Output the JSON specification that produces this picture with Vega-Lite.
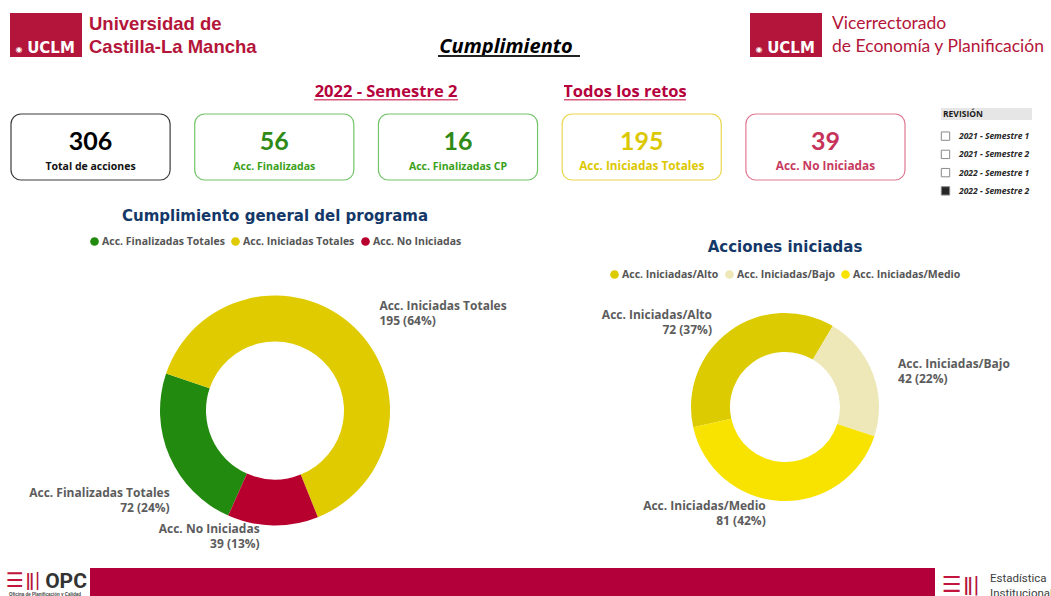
{
"$schema":"https://vega.github.io/schema/vega-lite/v6.json",
"background":"white",
"padding":{"left":0,"top":13,"right":0,"bottom":0},
"spacing":0,
"resolve":{"scale":{"color":"independent","fill":"independent","stroke":"independent","theta":"independent"},"legend":{"color":"independent","fill":"independent","stroke":"independent"}},
"config":{"view":{"stroke":null},"concat":{"spacing":0},"font":"Open Sans","text":{"font":"Open Sans"},"legend":{"layout":{"top":{"anchor":"middle"}}}},
"datasets":{
 "tarjetas":[
  {"etiqueta":"Total de acciones","valor":306},
  {"etiqueta":"Acc. Finalizadas","valor":56},
  {"etiqueta":"Acc. Finalizadas CP","valor":16},
  {"etiqueta":"Acc. Iniciadas Totales","valor":195},
  {"etiqueta":"Acc. No Iniciadas","valor":39}
 ],
 "revisiones":[
  {"revision":"2021 - Semestre 1","seleccionada":"no"},
  {"revision":"2021 - Semestre 2","seleccionada":"no"},
  {"revision":"2022 - Semestre 1","seleccionada":"no"},
  {"revision":"2022 - Semestre 2","seleccionada":"sí"}
 ],
 "cumplimiento":[
  {"categoria":"Acc. Finalizadas Totales","valor":72},
  {"categoria":"Acc. Iniciadas Totales","valor":195},
  {"categoria":"Acc. No Iniciadas","valor":39}
 ],
 "iniciadas":[
  {"categoria":"Acc. Iniciadas/Alto","valor":72},
  {"categoria":"Acc. Iniciadas/Bajo","valor":42},
  {"categoria":"Acc. Iniciadas/Medio","valor":81}
 ]
},
"vconcat":[
 {"hconcat":[
  {"width":10,"height":44,"data":{"values":[{}]},"mark":{"type":"point","opacity":0}},
  {"width":72,"height":44,"data":{"values":[{"marca":"UCLM"}]},"layer":[
   {"mark":{"type":"rect","color":"#b4153a"},"encoding":{}},
   {"mark":{"type":"text","clip":true,"font":"DejaVu Sans","fontWeight":"bold","fontSize":15,"color":"white","baseline":"alphabetic","dx":5,"dy":18},"encoding":{"text":{"field":"marca"}}},
   {"mark":{"type":"text","clip":true,"text":"◉","font":"DejaVu Sans","fontSize":8,"color":"white","baseline":"alphabetic","dx":-27,"dy":17},"encoding":{}}
  ]},
  {"width":7,"height":44,"data":{"values":[{}]},"mark":{"type":"point","opacity":0}},
  {"width":300,"height":44,"data":{"values":[{"texto":"Universidad de\nCastilla-La Mancha"}]},
   "mark":{"type":"text","clip":true,"align":"left","baseline":"middle","lineBreak":"\n","lineHeight":23,"font":"Liberation Sans","fontWeight":"bold","fontSize":18.5,"color":"#b4153a","dy":-11},
   "encoding":{"text":{"field":"texto"},"x":{"datum":0,"type":"quantitative","scale":{"domain":[0,1]},"axis":null}}},
  {"width":49,"height":44,"data":{"values":[{}]},"mark":{"type":"point","opacity":0}},
  {"vconcat":[
   {"width":142,"height":42,"data":{"values":[{"t":"Cumplimiento"}]},"mark":{"type":"text","clip":true,"font":"Open Sans","fontWeight":"bold","fontStyle":"italic","fontSize":20,"color":"#000000","baseline":"alphabetic","dx":-3,"dy":19},"encoding":{"text":{"field":"t"}}},
   {"width":142,"height":2,"data":{"values":[{}]},"mark":{"type":"rect","color":"#222222"},"encoding":{}}
  ]},
  {"width":170,"height":44,"data":{"values":[{}]},"mark":{"type":"point","opacity":0}},
  {"width":72,"height":44,"data":{"values":[{"marca":"UCLM"}]},"layer":[
   {"mark":{"type":"rect","color":"#b4153a"},"encoding":{}},
   {"mark":{"type":"text","clip":true,"font":"DejaVu Sans","fontWeight":"bold","fontSize":15,"color":"white","baseline":"alphabetic","dx":5,"dy":18},"encoding":{"text":{"field":"marca"}}},
   {"mark":{"type":"text","clip":true,"text":"◉","font":"DejaVu Sans","fontSize":8,"color":"white","baseline":"alphabetic","dx":-27,"dy":17},"encoding":{}}
  ]},
  {"width":10,"height":44,"data":{"values":[{}]},"mark":{"type":"point","opacity":0}},
  {"width":219,"height":44,"data":{"values":[{"texto":"Vicerrectorado\nde Economía y Planificación"}]},
   "mark":{"type":"text","clip":true,"align":"left","baseline":"middle","lineBreak":"\n","lineHeight":23,"font":"Lato","fontSize":17.5,"color":"#b4153a","dy":-11},
   "encoding":{"text":{"field":"texto"},"x":{"datum":0,"type":"quantitative","scale":{"domain":[0,1]},"axis":null}}}
 ]},
 {"hconcat":[
  {"width":314,"height":49,"data":{"values":[{}]},"mark":{"type":"point","opacity":0}},
  {"vconcat":[
   {"width":144,"height":42,"data":{"values":[{"t":"2022 - Semestre 2"}]},"mark":{"type":"text","clip":true,"font":"Open Sans","fontWeight":"bold","fontSize":16.5,"color":"#b5003b","baseline":"alphabetic","dy":18.7},"encoding":{"text":{"field":"t"}}},
   {"width":144,"height":1.5,"data":{"values":[{}]},"mark":{"type":"rect","color":"#d8587c"},"encoding":{}},
   {"width":144,"height":5.5,"data":{"values":[{}]},"mark":{"type":"point","opacity":0}}
  ]},
  {"width":106,"height":49,"data":{"values":[{}]},"mark":{"type":"point","opacity":0}},
  {"vconcat":[
   {"width":122,"height":42,"data":{"values":[{"t":"Todos los retos"}]},"mark":{"type":"text","clip":true,"font":"Open Sans","fontWeight":"bold","fontSize":16.5,"color":"#b5003b","baseline":"alphabetic","dy":18.7},"encoding":{"text":{"field":"t"}}},
   {"width":122,"height":1.5,"data":{"values":[{}]},"mark":{"type":"rect","color":"#d8587c"},"encoding":{}},
   {"width":122,"height":5.5,"data":{"values":[{}]},"mark":{"type":"point","opacity":0}}
  ]}
 ]},
 {"resolve":{"scale":{"color":"independent","fill":"independent","stroke":"independent"},"legend":{"color":"independent","fill":"independent","stroke":"independent"}},
  "hconcat":[
  {"width":10,"height":88,"data":{"values":[{}]},"mark":{"type":"point","opacity":0}},
  {"vconcat":[
   {"width":894,"height":4.5,"data":{"values":[{}]},"mark":{"type":"point","opacity":0}},
   {"width":894,"height":66,"data":{"name":"tarjetas"},
    "encoding":{"x":{"field":"etiqueta","type":"nominal","sort":null,"axis":null,"scale":{"paddingInner":0.134,"paddingOuter":0}}},
    "layer":[
     {"mark":{"type":"rect","cornerRadius":10,"fill":"white","strokeWidth":1.2},
      "encoding":{"stroke":{"field":"etiqueta","type":"nominal","legend":null,"scale":{"domain":["Total de acciones","Acc. Finalizadas","Acc. Finalizadas CP","Acc. Iniciadas Totales","Acc. No Iniciadas"],"range":["#3c3c3c","#74c46a","#74c46a","#ead64f","#e07a95"]}}}},
     {"mark":{"type":"text","font":"Lato","fontWeight":"bold","fontSize":25,"baseline":"alphabetic","dy":3},
      "encoding":{"text":{"field":"valor","type":"quantitative"},"color":{"field":"etiqueta","type":"nominal","legend":null,"scale":{"domain":["Total de acciones","Acc. Finalizadas","Acc. Finalizadas CP","Acc. Iniciadas Totales","Acc. No Iniciadas"],"range":["#000000","#2f8a16","#2f8a16","#dcc800","#c6325a"]}}}},
     {"transform":[{"filter":"datum.etiqueta != 'Acc. Iniciadas Totales' && datum.etiqueta != 'Acc. No Iniciadas'"}],
      "mark":{"type":"text","font":"Open Sans","fontWeight":"bold","fontSize":10.5,"baseline":"alphabetic","dy":23},
      "encoding":{"text":{"field":"etiqueta"},
       "fill":{"field":"etiqueta","type":"nominal","legend":null,"scale":{"domain":["Total de acciones","Acc. Finalizadas","Acc. Finalizadas CP","Acc. Iniciadas Totales","Acc. No Iniciadas"],"range":["#111111","#3aa018","#3aa018","#dcc800","#c83a60"]}}}},
     {"transform":[{"filter":"datum.etiqueta == 'Acc. Iniciadas Totales' || datum.etiqueta == 'Acc. No Iniciadas'"}],
      "mark":{"type":"text","font":"Open Sans","fontWeight":"bold","fontSize":11.8,"baseline":"alphabetic","dy":23},
      "encoding":{"text":{"field":"etiqueta"},
       "fill":{"field":"etiqueta","type":"nominal","legend":null,"scale":{"domain":["Total de acciones","Acc. Finalizadas","Acc. Finalizadas CP","Acc. Iniciadas Totales","Acc. No Iniciadas"],"range":["#111111","#3aa018","#3aa018","#dcc800","#c83a60"]}}}}
    ]},
   {"width":894,"height":16,"data":{"values":[{}]},"mark":{"type":"point","opacity":0}}
  ]},
  {"width":33,"height":88,"data":{"values":[{}]},"mark":{"type":"point","opacity":0}},
  {"vconcat":[
   {"width":91,"height":12,"data":{"values":[{"t":"REVISIÓN"}]},"layer":[
    {"mark":{"type":"rect","color":"#e6e6e6"},"encoding":{}},
    {"mark":{"type":"text","clip":true,"align":"left","font":"Open Sans","fontWeight":"bold","fontSize":8.5,"color":"#1a1a1a","dx":2},
     "encoding":{"text":{"field":"t"},"x":{"datum":0,"type":"quantitative","scale":{"domain":[0,1]},"axis":null}}}
   ]},
   {"width":91,"height":3,"data":{"values":[{}]},"mark":{"type":"point","opacity":0}},
   {"hconcat":[
    {"width":9,"height":73,"data":{"name":"revisiones"},"mark":{"type":"square","size":70,"stroke":"#8a8a8a","strokeWidth":1,"opacity":1},
     "encoding":{"y":{"field":"revision","type":"nominal","sort":null,"axis":null,"scale":{"type":"point","padding":0.5}},
      "fill":{"field":"seleccionada","type":"nominal","legend":null,"scale":{"domain":["no","sí"],"range":["#ffffff","#262626"]}}}},
    {"width":5,"height":73,"data":{"values":[{}]},"mark":{"type":"point","opacity":0}},
    {"width":77,"height":73,"data":{"name":"revisiones"},"mark":{"type":"text","align":"left","font":"Open Sans","fontStyle":"italic","fontWeight":"bold","fontSize":8.5,"color":"#262626"},
     "encoding":{"text":{"field":"revision"},"y":{"field":"revision","type":"nominal","sort":null,"axis":null,"scale":{"type":"point","padding":0.5}},"x":{"datum":0,"type":"quantitative","scale":{"domain":[0,1]},"axis":null}}}
   ]}
  ]}
 ]},
 {"width":1051,"height":9,"data":{"values":[{}]},"mark":{"type":"point","opacity":0}},
 {"resolve":{"scale":{"color":"independent","theta":"independent"},"legend":{"color":"independent"}},
  "hconcat":[
  {"width":550,"height":315,
   "title":{"text":"Cumplimiento general del programa","font":"DejaVu Sans","fontSize":15,"fontWeight":"bold","color":"#143868","offset":12},
   "data":{"name":"cumplimiento"},
   "transform":[
    {"joinaggregate":[{"op":"sum","field":"valor","as":"total"}]},
    {"stack":"valor","groupby":[],"sort":[{"field":"categoria","order":"ascending"}],"as":["v0","v1"]},
    {"calculate":"(datum.v0 + datum.v1) / 2","as":"medio"},
    {"calculate":"datum.categoria + '\\n' + datum.valor + ' (' + round(100 * datum.valor / datum.total) + '%)'","as":"rotulo"}
   ],
   "layer":[
    {"mark":{"type":"arc","radius":115,"innerRadius":69},
     "encoding":{
      "theta":{"field":"v1","type":"quantitative","scale":{"range":[3.5605,9.8437],"nice":false,"zero":true}},
      "theta2":{"field":"v0"},
      "color":{"field":"categoria","type":"nominal","scale":{"domain":["Acc. Finalizadas Totales","Acc. Iniciadas Totales","Acc. No Iniciadas"],"range":["#238a10","#dfcb00","#b8002f"]},
       "legend":{"orient":"top","direction":"horizontal","title":null,"symbolType":"circle","symbolSize":75,"labelFont":"Open Sans","labelFontSize":10.5,"labelFontWeight":"bold","labelColor":"#555555","columnPadding":5,"labelOffset":2,"offset":6}}}},
    {"transform":[{"filter":"datum.categoria == 'Acc. Iniciadas Totales'"}],
     "mark":{"type":"text","radius":133,"align":"left","dx":13,"dy":-8,"baseline":"middle","lineBreak":"\n","lineHeight":15,"font":"Open Sans","fontWeight":"bold","fontSize":12,"color":"#5c5c5c"},
     "encoding":{"theta":{"field":"medio","type":"quantitative"},"text":{"field":"rotulo"}}},
    {"transform":[{"filter":"datum.categoria == 'Acc. Finalizadas Totales'"}],
     "mark":{"type":"text","radius":115,"align":"right","dx":0,"dy":36,"baseline":"middle","lineBreak":"\n","lineHeight":15,"font":"Open Sans","fontWeight":"bold","fontSize":12,"color":"#5c5c5c"},
     "encoding":{"theta":{"field":"medio","type":"quantitative"},"text":{"field":"rotulo"}}},
    {"transform":[{"filter":"datum.categoria == 'Acc. No Iniciadas'"}],
     "mark":{"type":"text","radius":128,"align":"right","dx":-13,"dy":-9,"baseline":"middle","lineBreak":"\n","lineHeight":15,"font":"Open Sans","fontWeight":"bold","fontSize":12,"color":"#5c5c5c"},
     "encoding":{"theta":{"field":"medio","type":"quantitative"},"text":{"field":"rotulo"}}}
   ]},
  {"width":470,"height":308,
   "title":{"text":"Acciones iniciadas","font":"DejaVu Sans","fontSize":15,"fontWeight":"bold","color":"#143868","offset":-2},
   "data":{"name":"iniciadas"},
   "transform":[
    {"joinaggregate":[{"op":"sum","field":"valor","as":"total"}]},
    {"stack":"valor","groupby":[],"sort":[{"field":"categoria","order":"ascending"}],"as":["v0","v1"]},
    {"calculate":"(datum.v0 + datum.v1) / 2","as":"medio"},
    {"calculate":"datum.categoria + '\\n' + datum.valor + ' (' + round(100 * datum.valor / datum.total) + '%)'","as":"rotulo"}
   ],
   "layer":[
    {"mark":{"type":"arc","radius":94,"innerRadius":55},
     "encoding":{
      "theta":{"field":"v1","type":"quantitative","scale":{"range":[4.496,10.779],"nice":false,"zero":true}},
      "theta2":{"field":"v0"},
      "color":{"field":"categoria","type":"nominal","scale":{"domain":["Acc. Iniciadas/Alto","Acc. Iniciadas/Bajo","Acc. Iniciadas/Medio"],"range":["#dccb00","#eee8b8","#f8e300"]},
       "legend":{"orient":"top","direction":"horizontal","title":null,"symbolType":"circle","symbolSize":75,"labelFont":"Open Sans","labelFontSize":10.5,"labelFontWeight":"bold","labelColor":"#555555","columnPadding":5,"labelOffset":2,"offset":-27}}}},
    {"transform":[{"filter":"datum.categoria == 'Acc. Iniciadas/Alto'"}],
     "mark":{"type":"text","radius":104,"align":"right","dx":-12,"dy":-7.5,"baseline":"middle","lineBreak":"\n","lineHeight":15,"font":"Open Sans","fontWeight":"bold","fontSize":12,"color":"#5c5c5c"},
     "encoding":{"theta":{"field":"medio","type":"quantitative"},"text":{"field":"rotulo"}}},
    {"transform":[{"filter":"datum.categoria == 'Acc. Iniciadas/Bajo'"}],
     "mark":{"type":"text","radius":100,"align":"left","dx":19.5,"dy":-7.5,"baseline":"middle","lineBreak":"\n","lineHeight":15,"font":"Open Sans","fontWeight":"bold","fontSize":12,"color":"#5c5c5c"},
     "encoding":{"theta":{"field":"medio","type":"quantitative"},"text":{"field":"rotulo"}}},
    {"transform":[{"filter":"datum.categoria == 'Acc. Iniciadas/Medio'"}],
     "mark":{"type":"text","radius":106.5,"align":"right","dx":-14,"dy":-7.5,"baseline":"middle","lineBreak":"\n","lineHeight":15,"font":"Open Sans","fontWeight":"bold","fontSize":12,"color":"#5c5c5c"},
     "encoding":{"theta":{"field":"medio","type":"quantitative"},"text":{"field":"rotulo"}}}
   ]}
 ]},
 {"hconcat":[
  {"vconcat":[
   {"hconcat":[
    {"width":42,"height":24,"data":{"values":[{"a":"☰","b":"ǁ|"}]},"layer":[
     {"mark":{"type":"text","clip":true,"font":"DejaVu Sans","fontSize":20,"color":"#c2143c","dx":-6,"dy":1},"encoding":{"text":{"field":"a"}}},
     {"mark":{"type":"text","clip":true,"font":"DejaVu Sans","fontSize":18,"color":"#b4153a","dx":12,"dy":1},"encoding":{"text":{"field":"b"}}}
    ]},
    {"width":48,"height":24,"data":{"values":[{"t":"OPC"}]},"mark":{"type":"text","clip":true,"font":"Roboto","fontWeight":"bold","fontSize":21,"color":"#333333","dy":2},"encoding":{"text":{"field":"t"}}}
   ]},
   {"width":90,"height":6,"data":{"values":[{"t":"Oficina de Planificación y Calidad"}]},"mark":{"type":"text","clip":true,"font":"Liberation Sans","fontWeight":"bold","fontSize":4.5,"color":"#444444"},"encoding":{"text":{"field":"t"}}}
  ]},
  {"width":845,"height":30,"data":{"values":[{}]},"mark":{"type":"rect","color":"#b3003a"},"encoding":{}},
  {"hconcat":[
   {"width":53,"height":30,"data":{"values":[{"a":"☰","b":"ǁ|"}]},"layer":[
    {"mark":{"type":"text","clip":true,"font":"DejaVu Sans","fontSize":22,"color":"#c2143c","dx":-10,"dy":2},"encoding":{"text":{"field":"a"}}},
    {"mark":{"type":"text","clip":true,"font":"DejaVu Sans","fontSize":20,"color":"#b4153a","dx":10,"dy":2},"encoding":{"text":{"field":"b"}}}
   ]},
   {"width":63,"height":30,"data":{"values":[{"t":"Estadística\nInstitucional"}]},
    "mark":{"type":"text","clip":true,"align":"left","baseline":"middle","lineBreak":"\n","lineHeight":15,"font":"Roboto","fontSize":11.5,"color":"#3d3d3d","dx":2,"dy":-4},
    "encoding":{"text":{"field":"t"},"x":{"datum":0,"type":"quantitative","scale":{"domain":[0,1]},"axis":null}}}
  ]}
 ]}
]
}
